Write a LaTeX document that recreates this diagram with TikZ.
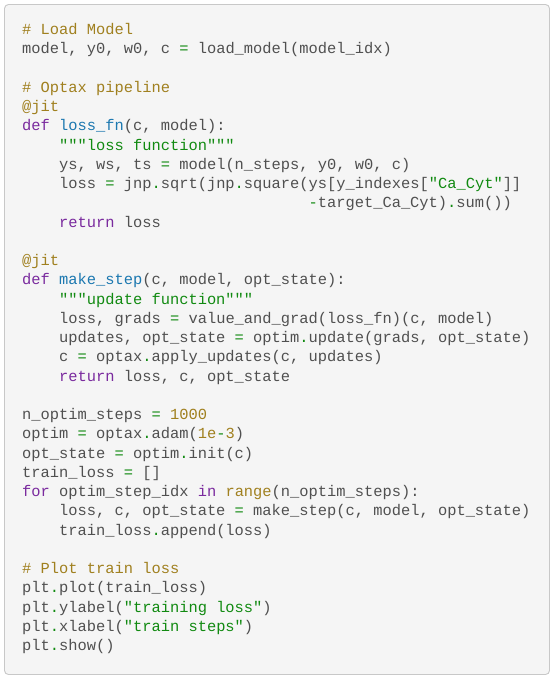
\documentclass[tikz,border=0pt]{standalone}
\usepackage{fontspec}
\setmonofont{Liberation Mono}
\usetikzlibrary{positioning}
\definecolor{codegray}{HTML}{505050}
\definecolor{cmtcol}{HTML}{A0801F}
\definecolor{kwcol}{HTML}{7A2A9E}
\definecolor{fncol}{HTML}{1C78B0}
\definecolor{strcol}{HTML}{118A11}
\definecolor{boxfill}{HTML}{F5F5F5}
\definecolor{boxdraw}{HTML}{C8C8C8}
\newcommand\cmt[1]{\textcolor{cmtcol}{#1}}
\newcommand\kw[1]{\textcolor{kwcol}{#1}}
\newcommand\fn[1]{\textcolor{fncol}{#1}}
\newcommand\str[1]{\textcolor{strcol}{#1}}
\newcommand\op[1]{\textcolor{strcol}{#1}}
\frenchspacing
\tikzset{
  codeline/.style={anchor=base west, inner sep=0pt, text=codegray,
    font=\ttfamily\fontsize{15.4pt}{19.25pt}\selectfont},
  codebox/.style={draw=boxdraw, fill=boxfill, line width=0.9pt, rounded corners=4pt}
}

\begin{document}
\begin{tikzpicture}[x=1pt, y=-1pt]
    \useasboundingbox (0,0) rectangle (554,680);
    \draw[codebox] (4.5,4.5) rectangle (549.5,674.5);

    % load
    \node[codeline] (1) at (22,34.5) {\cmt{\# Load Model}};
    \node[codeline] (2) at (22,53.75) {model, y0, w0, c \op{=} load\_model(model\_idx)};

    % loss function
    \node[codeline] (3) at (22,92.25) {\cmt{\# Optax pipeline}};
    \node[codeline] (4) at (22,111.5) {\cmt{@jit}};
    \node[codeline] (5) at (22,130.75) {\kw{def} \fn{loss\_fn}(c, model):};
    \node[codeline] (6) at (58.96,150) {\str{"""loss function"""}};
    \node[codeline] (7) at (58.96,169.25) {ys, ws, ts \op{=} model(n\_steps, y0, w0, c)};
    \node[codeline] (8) at (58.96,188.5) {loss \op{=} jnp\op{.}sqrt(jnp\op{.}square(ys[y\_indexes[\str{"Ca\_Cyt"}]]};
    \node[codeline] (9) at (308.4,207.75) {\op{-}target\_Ca\_Cyt)\op{.}sum())};
    \node[codeline] (10) at (58.96,227) {\kw{return} loss};

    % step function
    \node[codeline] (11) at (22,265.5) {\cmt{@jit}};
    \node[codeline] (12) at (22,284.75) {\kw{def} \fn{make\_step}(c, model, opt\_state):};
    \node[codeline] (13) at (58.96,304) {\str{"""update function"""}};
    \node[codeline] (14) at (58.96,323.25) {loss, grads \op{=} value\_and\_grad(loss\_fn)(c, model)};
    \node[codeline] (15) at (58.96,342.5) {updates, opt\_state \op{=} optim\op{.}update(grads, opt\_state)};
    \node[codeline] (16) at (58.96,361.75) {c \op{=} optax\op{.}apply\_updates(c, updates)};
    \node[codeline] (17) at (58.96,381) {\kw{return} loss, c, opt\_state};

    % training loop
    \node[codeline] (18) at (22,419.5) {n\_optim\_steps \op{=} \cmt{1000}};
    \node[codeline] (19) at (22,438.75) {optim \op{=} optax\op{.}adam(\cmt{1e}\op{-}\cmt{3})};
    \node[codeline] (20) at (22,458) {opt\_state \op{=} optim\op{.}init(c)};
    \node[codeline] (21) at (22,477.25) {train\_loss \op{=} []};
    \node[codeline] (22) at (22,496.5) {\kw{for} optim\_step\_idx \kw{in} \cmt{range}(n\_optim\_steps):};
    \node[codeline] (23) at (58.96,515.75) {loss, c, opt\_state \op{=} make\_step(c, model, opt\_state)};
    \node[codeline] (24) at (58.96,535) {train\_loss\op{.}append(loss)};

    % plot
    \node[codeline] (25) at (22,573.5) {\cmt{\# Plot train loss}};
    \node[codeline] (26) at (22,592.75) {plt\op{.}plot(train\_loss)};
    \node[codeline] (27) at (22,612) {plt\op{.}ylabel(\str{"training loss"})};
    \node[codeline] (28) at (22,631.25) {plt\op{.}xlabel(\str{"train steps"})};
    \node[codeline] (29) at (22,650.5) {plt\op{.}show()};
\end{tikzpicture}
\end{document}
